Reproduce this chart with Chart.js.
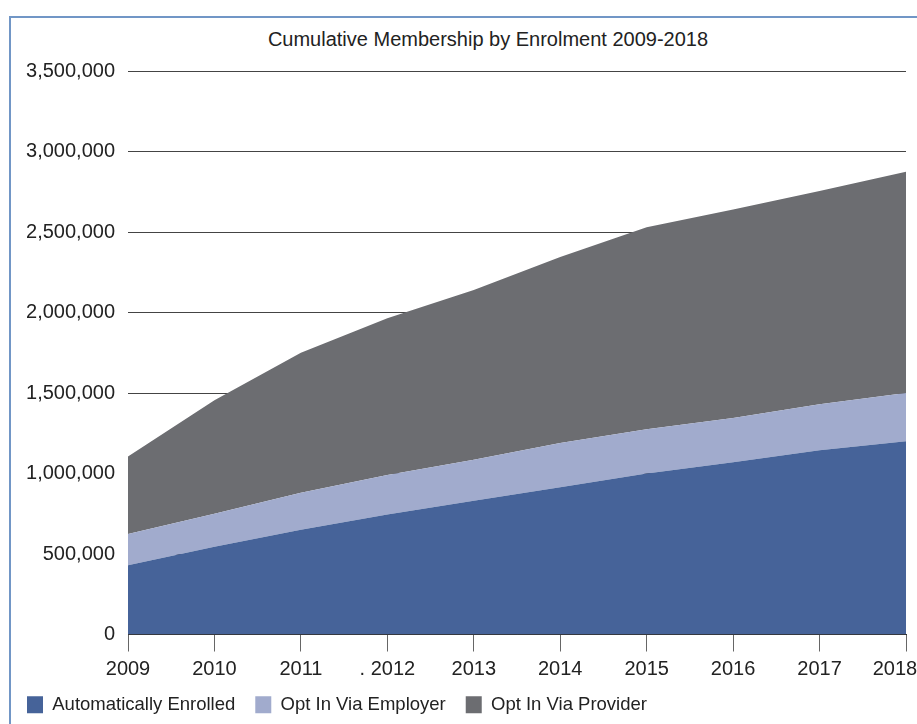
<!DOCTYPE html>
<html>
<head>
<meta charset="utf-8">
<script src="https://cdn.jsdelivr.net/npm/chart.js@4.4.1/dist/chart.umd.min.js"></script>
<style>
  html, body { margin: 0; padding: 0; background: #fff; overflow: hidden; }
  #page { position: relative; width: 917px; height: 724px; overflow: hidden; }
  #frame { position: absolute; left: 9px; top: 16px; width: 1000px; height: 800px;
           border-left: 2px solid #7196c6; border-top: 2px solid #7196c6; }
  #title { position: absolute; left: 0; width: 976px; top: 28px; text-align: center;
           font: 20px "Liberation Sans", Arial, sans-serif; color: #222; }
  #wrap { position: absolute; left: 0; top: 0; width: 960px; height: 724px; }
</style>
</head>
<body>
<div id="page">
  <div id="frame"></div>
  <div id="title">Cumulative Membership by Enrolment 2009-2018</div>
  <div id="wrap"><canvas id="chart"></canvas></div>
</div>
<script>
const years = ['2009', '2010', '2011', '. 2012', '2013', '2014', '2015', '2016', '2017', '2018'];
const autoEnrolled = [430000, 545000, 650000, 745000, 830000, 915000, 1000000, 1070000, 1145000, 1200000];
const viaEmployer = [195000, 205000, 230000, 245000, 255000, 275000, 275000, 275000, 285000, 300000];
const viaProvider = [480000, 705000, 870000, 975000, 1055000, 1155000, 1255000, 1295000, 1325000, 1375000];

const family = '"Liberation Sans", Arial, sans-serif';

function area(label, data, color, fill) {
  return { label, data, backgroundColor: color, borderColor: color, borderWidth: 0, fill, pointRadius: 0, tension: 0 };
}

new Chart(document.getElementById('chart'), {
  type: 'line',
  data: {
    labels: years,
    datasets: [
      area('Automatically Enrolled', autoEnrolled, '#466399', 'origin'),
      area('Opt In Via Employer', viaEmployer, '#a1abcd', '-1'),
      area('Opt In Via Provider', viaProvider, '#6c6d71', '-1'),
    ],
  },
  options: {
    responsive: true,
    maintainAspectRatio: false,
    animation: false,
    layout: { padding: { left: 7, right: 54, top: 71, bottom: 0 } },
    plugins: {
      title: { display: false },
      tooltip: { enabled: false },
      legend: {
        position: 'bottom',
        align: 'start',
        labels: { boxWidth: 16, boxHeight: 17, padding: 20, color: '#222', font: { family, size: 18.5 } },
      },
    },
    scales: {
      x: {
        offset: false,
        grid: { drawOnChartArea: false, drawTicks: true, tickLength: 17, color: '#666' },
        border: { display: true, color: '#333', width: 1 },
        ticks: {
          color: '#222',
          font: { family, size: 20 },
          padding: 6,
          maxRotation: 0,
          autoSkip: false,
          // the last year sits against the page edge, nudge it left so it stays whole
          callback: (v, i) => i === years.length - 1 ? years[i] + '\u2007\u2007' : years[i],
        },
        afterFit: s => { s.height = 41; },
      },
      y: {
        stacked: true,
        min: 0,
        max: 3500000,
        grid: { drawTicks: false, color: '#444', lineWidth: 1 },
        border: { display: false },
        ticks: {
          stepSize: 500000,
          padding: 13,
          color: '#222',
          font: { family, size: 20 },
          callback: v => v.toLocaleString('en-US'),
        },
        afterFit: s => { s.width = 121; },
      },
    },
  },
});
</script>
</body>
</html>
